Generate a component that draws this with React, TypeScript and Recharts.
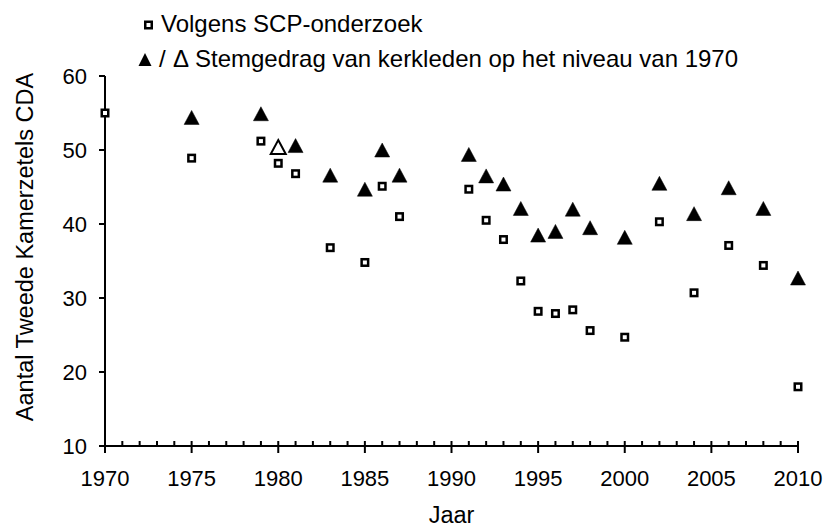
import { ScatterChart, Scatter, XAxis, YAxis } from 'recharts';

// jaren + zetels volgens SCP-onderzoek
const scpYears = [1970, 1975, 1979, 1980, 1981, 1983, 1985, 1986, 1987, 1991, 1992, 1993, 1994, 1995, 1996, 1997, 1998, 2000, 2002, 2004, 2006, 2008, 2010];
const scpSeats = [55, 48.9, 51.2, 48.2, 46.8, 36.8, 34.8, 45.1, 41.0, 44.7, 40.5, 37.9, 32.3, 28.2, 27.9, 28.4, 25.6, 24.7, 40.3, 30.7, 37.1, 34.4, 18.0];

// stemgedrag kerkleden op niveau 1970 (gevuld)
const kerkYears = [1975, 1979, 1981, 1983, 1985, 1986, 1987, 1991, 1992, 1993, 1994, 1995, 1996, 1997, 1998, 2000, 2002, 2004, 2006, 2008, 2010];
const kerkSeats = [54.4, 54.9, 50.6, 46.6, 44.7, 50.0, 46.6, 49.4, 46.5, 45.4, 42.1, 38.5, 39.0, 42.0, 39.5, 38.2, 45.5, 41.4, 44.9, 42.1, 32.7];

// open driehoek
const kerkOpenYears = [1980];
const kerkOpenSeats = [50.4];

const yTicks = [10, 20, 30, 40, 50, 60];
const xTicks = Array.from({ length: 41 }, (_, i) => 1970 + i);

const FONT = '"Liberation Sans", Arial, sans-serif';

const scpData = scpYears.map((year, i) => ({ year, seats: scpSeats[i] }));
const kerkData = kerkYears.map((year, i) => ({ year, seats: kerkSeats[i] }));
const kerkOpenData = kerkOpenYears.map((year, i) => ({ year, seats: kerkOpenSeats[i] }));

const Square = (props: any) => {
  const { cx, cy } = props;
  return <rect x={cx - 3.25} y={cy - 3.25} width={6.5} height={6.5} fill="#fff" stroke="#000" strokeWidth={2.5} />;
};

const Triangle = (props: any) => {
  const { cx, cy, open } = props;
  const w = 7.5;
  const h = 7;
  return (
    <path
      d={`M${cx},${cy - h} L${cx + w},${cy + h} L${cx - w},${cy + h} Z`}
      fill={open ? '#fff' : '#000'}
      stroke="#000"
      strokeWidth={open ? 2 : 0.5}
      strokeLinejoin="miter"
    />
  );
};

const XTick = (props: any) => {
  const { x, y, payload } = props;
  const major = payload.value % 5 === 0;
  return (
    <g>
      <line x1={x} x2={x} y1={y - 5} y2={major ? y + 7 : y} stroke="#000" strokeWidth={2} />
      {major && (
        <text x={x} y={y + 40} textAnchor="middle" fontSize={22} fontFamily={FONT} fill="#000">
          {payload.value}
        </text>
      )}
    </g>
  );
};

const YTick = (props: any) => {
  const { x, y, payload } = props;
  return (
    <g>
      <line x1={x - 6} x2={x} y1={y} y2={y} stroke="#000" strokeWidth={2} />
      <text x={x - 18} y={y + 8} textAnchor="end" fontSize={22} fontFamily={FONT} fill="#000">
        {payload.value}
      </text>
    </g>
  );
};

const YLabel = (props: any) => {
  const { viewBox } = props;
  const cy = viewBox.y + viewBox.height / 2 - 14;
  return (
    <text
      x={33}
      y={cy}
      transform={`rotate(-90, 33, ${cy})`}
      textAnchor="middle"
      fontSize={23.5}
      fontFamily={FONT}
      fill="#000"
    >
      Aantal Tweede Kamerzetels CDA
    </text>
  );
};

const XLabel = (props: any) => {
  const { viewBox } = props;
  return (
    <text x={viewBox.x + viewBox.width / 2} y={viewBox.y + 77} textAnchor="middle" fontSize={23.5} fontFamily={FONT} fill="#000">
      Jaar
    </text>
  );
};

export default function App() {
  return (
    <div style={{ position: 'absolute', left: 0, top: 0, width: 824, height: 528, background: '#fff' }}>
      <ScatterChart width={824} height={528} margin={{ top: 76, right: 26, bottom: 0, left: 0 }}>
        <XAxis
          type="number"
          dataKey="year"
          domain={[1970, 2010]}
          ticks={xTicks}
          interval={0}
          tick={<XTick />}
          tickLine={false}
          tickSize={0}
          tickMargin={0}
          height={82}
          axisLine={{ stroke: '#000', strokeWidth: 2 }}
          label={<XLabel />}
        />
        <YAxis
          type="number"
          dataKey="seats"
          domain={[10, 60]}
          ticks={yTicks}
          interval={0}
          tick={<YTick />}
          tickLine={false}
          tickSize={0}
          tickMargin={0}
          width={105}
          axisLine={{ stroke: '#000', strokeWidth: 2 }}
          label={<YLabel />}
        />
        <Scatter data={scpData} shape={<Square />} isAnimationActive={false} />
        <Scatter data={kerkData} shape={<Triangle />} isAnimationActive={false} />
        <Scatter data={kerkOpenData} shape={<Triangle open />} isAnimationActive={false} />
      </ScatterChart>
      <div style={{ position: 'absolute', left: 0, top: 0, width: 824, height: 74, pointerEvents: 'none' }}>
        <svg width={824} height={74}>
          <rect x={145.25} y={21.75} width={6.5} height={6.5} fill="#fff" stroke="#000" strokeWidth={2.5} />
          <text x={161} y={32} fontSize={24} fontFamily={FONT} fill="#000">
            Volgens SCP-onderzoek
          </text>
          <path d="M145,53 L151.5,66 L138.5,66 Z" fill="#000" />
          <text x={159} y={67} fontSize={24} fontFamily={FONT} fill="#000">
            /
          </text>
          <text x={173} y={67} fontSize={24} fontFamily={FONT} fill="#000">
            Δ
          </text>
          <text x={195} y={67} fontSize={24} fontFamily={FONT} fill="#000">
            Stemgedrag van kerkleden op het niveau van 1970
          </text>
        </svg>
      </div>
    </div>
  );
}
